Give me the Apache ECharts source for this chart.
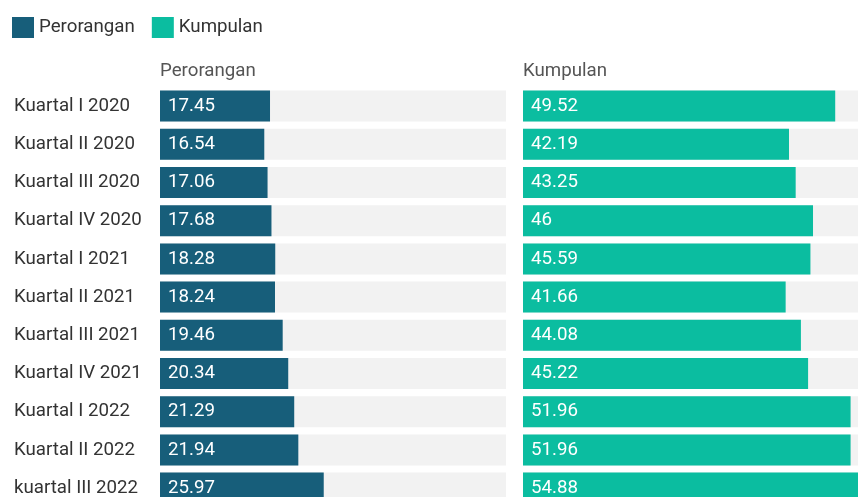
<!DOCTYPE html>
<html><head><meta charset="utf-8">
<script src="https://cdn.jsdelivr.net/npm/echarts@6/dist/echarts.min.js"></script>
<style>html,body{margin:0;padding:0;background:#fff;overflow:hidden;width:858px;height:497px}#c{width:900px;height:530px}</style>
</head><body><div id="c"></div>
<script>
var categories = ["Kuartal I 2020","Kuartal II 2020","Kuartal III 2020","Kuartal IV 2020","Kuartal I 2021","Kuartal II 2021","Kuartal III 2021","Kuartal IV 2021","Kuartal I 2022","Kuartal II 2022","kuartal III 2022"];
var perorangan = [17.45,16.54,17.06,17.68,18.28,18.24,19.46,20.34,21.29,21.94,25.97];
var kumpulan = [49.52,42.19,43.25,46,45.59,41.66,44.08,45.22,51.96,51.96,54.88];
var axisMax = 54.88;

var chart = echarts.init(document.getElementById('c'));
var font = 'Roboto, "Noto Sans", sans-serif';
var fs = 18.7;
var barCommon = {
  type: 'bar', barWidth: 31, showBackground: true,
  backgroundStyle: {color: '#f2f2f2'},
  label: {show: true, position: 'insideLeft', distance: 8, color: '#fff', fontSize: fs, fontFamily: font},
  emphasis: {disabled: true}, animation: false
};
chart.setOption({
  animation: false,
  textStyle: {fontFamily: font},
  legend: {left: 12, top: 17, padding: 0, icon: 'rect', itemWidth: 22, itemHeight: 21, itemGap: 17,
    textStyle: {fontSize: fs, color: '#333', fontFamily: font},
    data: ['Perorangan','Kumpulan']},
  title: [
    {text: 'Perorangan', left: 160, top: 62, padding: 0, textStyle: {fontSize: fs, fontWeight: 'normal', color: '#555', fontFamily: font}},
    {text: 'Kumpulan', left: 523, top: 62, padding: 0, textStyle: {fontSize: fs, fontWeight: 'normal', color: '#555', fontFamily: font}}
  ],
  grid: [
    {left: 160, top: 87, width: 346, height: 420.2},
    {left: 523, top: 87, width: 346, height: 420.2}
  ],
  xAxis: [
    {type: 'value', gridIndex: 0, min: 0, max: axisMax, show: false},
    {type: 'value', gridIndex: 1, min: 0, max: axisMax, show: false}
  ],
  yAxis: [
    {type: 'category', gridIndex: 0, data: categories, inverse: true,
      axisLine: {show: false}, axisTick: {show: false},
      axisLabel: {align: 'left', margin: 146, fontSize: fs, color: '#333', fontFamily: font}},
    {type: 'category', gridIndex: 1, data: categories, inverse: true, show: false}
  ],
  series: [
    Object.assign({}, barCommon, {name: 'Perorangan', xAxisIndex: 0, yAxisIndex: 0, data: perorangan, itemStyle: {color: '#175e7a'}}),
    Object.assign({}, barCommon, {name: 'Kumpulan', xAxisIndex: 1, yAxisIndex: 1, data: kumpulan, itemStyle: {color: '#0bbda0'}})
  ]
});
</script></body></html>
